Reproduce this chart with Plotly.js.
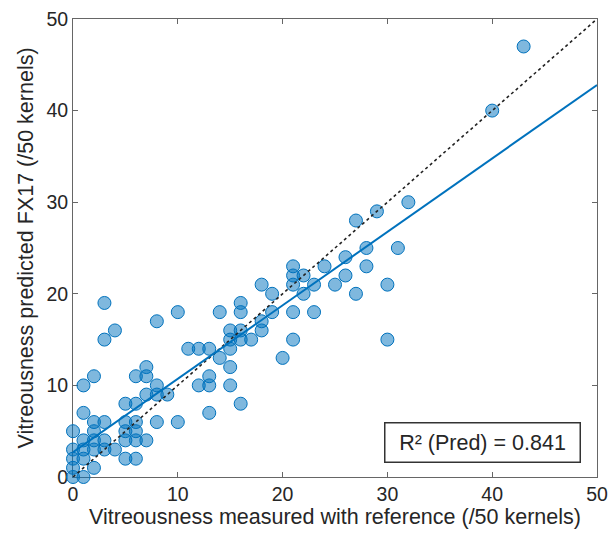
<!DOCTYPE html>
<html>
<head>
<meta charset="utf-8">
<script src="https://cdn.plot.ly/plotly-3.0.1.min.js"></script>
<style>html,body{margin:0;padding:0;background:#fff;}#chart{width:611px;height:534px;}</style>
</head>
<body>
<div id="chart"></div>
<script>
// Measured with reference (/50 kernels)
const measured = [
  0,1,0,2,0,1,5,6,
  0,1,2,3,4,
  1,2,3,5,6,7,
  0,2,5,6,
  2,3,5,6,8,10,
  1,5,6,7,8,9,1,8,2,6,7,7,
  3,4,8,10,14,3,
  11,12,13,15,14,15,13,12,13,15,16,13,
  15,16,18,15,16,17,18,16,16,19,21,23,
  19,22,27,18,21,23,25,30,21,22,26,21,24,28,26,28,31,27,29,32,40,43,20,21,30
];
// Predicted FX17 (/50 kernels)
const predicted = [
  0,0,1,1,2,2,2,2,
  3,3,3,3,3,
  4,4,4,4,4,4,
  5,5,5,5,
  6,6,6,6,6,6,
  7,8,8,9,9,9,10,10,11,11,11,12,
  15,16,17,18,18,19,
  14,14,14,14,13,12,11,10,10,10,8,7,
  16,16,16,15,15,15,17,18,19,18,18,18,
  20,20,20,21,21,21,21,21,22,22,22,23,23,23,24,25,25,28,29,30,40,47,13,15,15
];
// Regression line end points and 1:1 reference line
const fitX = [0, 50];
const fitY = [2.7, 42.8];
const refX = [0, 50];
const refY = [0, 50];
const annotationText = 'R² (Pred) = 0.841';
const xTitle = 'Vitreousness measured with reference (/50 kernels)';
const yTitle = 'Vitreousness predicted FX17 (/50 kernels)';

const font = 'Arial, "Liberation Sans", sans-serif';
const textColor = '#262626';

const traces = [
  {x: measured, y: predicted, type: 'scatter', mode: 'markers', cliponaxis: false,
   marker: {size: 13, color: 'rgba(0,114,189,0.5)', line: {color: '#0072BD', width: 1}},
   hoverinfo: 'x+y'},
  {x: refX, y: refY, type: 'scatter', mode: 'lines',
   line: {color: '#222', width: 1.6, dash: 'dot'}},
  {x: fitX, y: fitY, type: 'scatter', mode: 'lines',
   line: {color: '#0072BD', width: 2}}
];

const axisCommon = {
  range: [0, 50], dtick: 10, tick0: 0, showgrid: false, zeroline: false,
  showline: true, linecolor: '#666', linewidth: 1, mirror: 'ticks',
  ticks: 'inside', ticklen: 5, tickcolor: '#666', layer: 'below traces',
  tickfont: {family: font, size: 19.5, color: textColor}
};

const layout = {
  width: 611, height: 534,
  margin: {l: 73, r: 14, t: 19, b: 57},
  paper_bgcolor: '#fff', plot_bgcolor: '#fff',
  showlegend: false,
  xaxis: Object.assign({}, axisCommon, {
    title: {text: xTitle, font: {family: font, size: 21.5, color: textColor}, standoff: 2}
  }),
  yaxis: Object.assign({}, axisCommon, {
    title: {text: yTitle, font: {family: font, size: 21.5, color: textColor}, standoff: 6}
  }),
  annotations: [{
    text: annotationText, xref: 'paper', yref: 'paper', x: 0.782, y: 0.0755,
    xanchor: 'center', yanchor: 'middle', showarrow: false,
    font: {family: font, size: 21.5, color: textColor},
    bgcolor: '#fff', bordercolor: '#333', borderwidth: 1.5,
    width: 194, height: 38, borderpad: 0
  }]
};

Plotly.newPlot('chart', traces, layout, {displayModeBar: false, staticPlot: true});
</script>
</body>
</html>
